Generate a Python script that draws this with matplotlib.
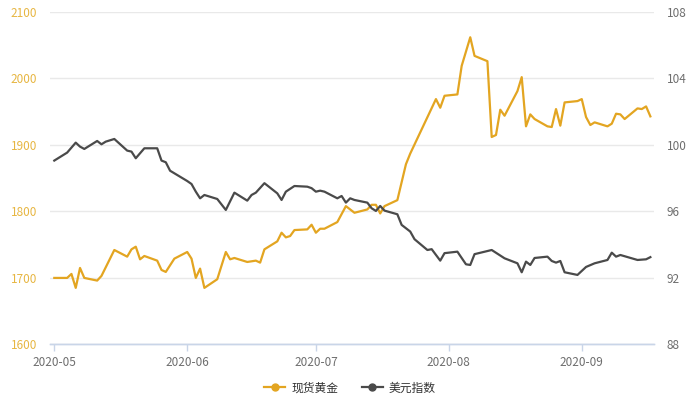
import matplotlib
matplotlib.use("Agg")
import matplotlib.pyplot as plt
import matplotlib.dates as mdates
from matplotlib.lines import Line2D
import numpy as np
import datetime as dt

plt.rcParams['font.family'] = ['Noto Sans CJK SC', 'DejaVu Sans']

gold_dates = ["2020-05-01","2020-05-04","2020-05-05","2020-05-06","2020-05-07","2020-05-08",
    "2020-05-11","2020-05-12","2020-05-15","2020-05-18","2020-05-19","2020-05-20","2020-05-21",
    "2020-05-22","2020-05-25","2020-05-26","2020-05-27","2020-05-29","2020-06-01","2020-06-02",
    "2020-06-03","2020-06-04","2020-06-05","2020-06-08","2020-06-10","2020-06-11","2020-06-12",
    "2020-06-15","2020-06-17","2020-06-18","2020-06-19","2020-06-22","2020-06-23","2020-06-24",
    "2020-06-25","2020-06-26","2020-06-29","2020-06-30","2020-07-01","2020-07-02","2020-07-03",
    "2020-07-06","2020-07-08","2020-07-10","2020-07-13","2020-07-14","2020-07-15","2020-07-16",
    "2020-07-17","2020-07-20","2020-07-22","2020-07-23","2020-07-29","2020-07-30","2020-07-31",
    "2020-08-03","2020-08-04","2020-08-06","2020-08-07","2020-08-10","2020-08-11","2020-08-12",
    "2020-08-13","2020-08-14","2020-08-17","2020-08-18","2020-08-19","2020-08-20","2020-08-21",
    "2020-08-24","2020-08-25","2020-08-26","2020-08-27","2020-08-28","2020-08-31","2020-09-01",
    "2020-09-02","2020-09-03","2020-09-04","2020-09-07","2020-09-08","2020-09-09","2020-09-10",
    "2020-09-11","2020-09-14","2020-09-15","2020-09-16","2020-09-17"]
gold_values = [1700,1700,1706,1685,1715,1700,
    1696,1703,1742,1732,1743,1747,1728,
    1733,1726,1712,1709,1729,1739,1729,
    1700,1714,1685,1698,1739,1728,1730,
    1724,1726,1723,1743,1755,1768,1761,
    1763,1772,1773,1780,1768,1774,1774,
    1784,1808,1798,1803,1810,1810,1797,
    1808,1817,1871,1887,1969,1956,1974,
    1976,2019,2062,2034,2026,1912,1915,
    1953,1944,1981,2002,1928,1946,1939,
    1928,1927,1954,1929,1964,1966,1969,
    1942,1930,1934,1928,1932,1947,1946,
    1939,1955,1954,1958,1943]

usd_dates = ["2020-05-01","2020-05-04","2020-05-06","2020-05-07","2020-05-08","2020-05-11",
    "2020-05-12","2020-05-13","2020-05-15","2020-05-18","2020-05-19","2020-05-20","2020-05-22",
    "2020-05-25","2020-05-26","2020-05-27","2020-05-28","2020-06-01","2020-06-02","2020-06-03",
    "2020-06-04","2020-06-05","2020-06-08","2020-06-10","2020-06-12","2020-06-15","2020-06-16",
    "2020-06-17","2020-06-19","2020-06-22","2020-06-23","2020-06-24","2020-06-26","2020-06-29",
    "2020-06-30","2020-07-01","2020-07-02","2020-07-03","2020-07-06","2020-07-07","2020-07-08",
    "2020-07-09","2020-07-10","2020-07-13","2020-07-14","2020-07-15","2020-07-16","2020-07-17",
    "2020-07-20","2020-07-21","2020-07-23","2020-07-24","2020-07-27","2020-07-28","2020-07-30",
    "2020-07-31","2020-08-03","2020-08-05","2020-08-06","2020-08-07","2020-08-11","2020-08-14",
    "2020-08-17","2020-08-18","2020-08-19","2020-08-20","2020-08-21","2020-08-24","2020-08-25",
    "2020-08-26","2020-08-27","2020-08-28","2020-08-31","2020-09-02","2020-09-04","2020-09-07",
    "2020-09-08","2020-09-09","2020-09-10","2020-09-14","2020-09-16","2020-09-17"]
usd_values = [99.06,99.54,100.14,99.90,99.76,100.24,
    100.04,100.20,100.36,99.66,99.60,99.20,99.80,
    99.80,99.06,98.96,98.45,97.83,97.65,97.19,
    96.79,96.99,96.75,96.09,97.13,96.65,96.99,
    97.13,97.70,97.09,96.69,97.19,97.53,97.49,
    97.40,97.19,97.25,97.19,96.79,96.93,96.53,
    96.79,96.69,96.53,96.19,96.03,96.33,96.05,
    95.83,95.19,94.79,94.33,93.68,93.73,93.04,
    93.49,93.58,92.82,92.78,93.43,93.68,93.18,
    92.88,92.34,92.98,92.78,93.20,93.28,93.02,
    92.92,93.02,92.34,92.18,92.66,92.88,93.08,
    93.52,93.28,93.38,93.08,93.12,93.25]

gold_ticks = [1600, 1700, 1800, 1900, 2000, 2100]
usd_ticks = [88, 92, 96, 100, 104, 108]
month_ticks = ["2020-05-01", "2020-06-01", "2020-07-01", "2020-08-01", "2020-09-01"]
gold_label = "现货黄金"
usd_label = "美元指数"

GOLD = '#E3A521'
GOLD_TXT = '#E7B642'
GRAY = '#4a4a4a'
TXT = '#6e6e6e'
GRID = '#e9e9e9'
AXIS = '#c9d5e8'

to_d = lambda s: dt.datetime.strptime(s, "%Y-%m-%d")
gd = [to_d(s) for s in gold_dates]
ud = [to_d(s) for s in usd_dates]

fig = plt.figure(figsize=(7, 4), dpi=100)
ax = fig.add_axes([0.071, 0.139, 0.863, 0.831])
ax2 = ax.twinx()

ax.plot(gd, gold_values, color=GOLD, lw=1.6, zorder=3)
ax2.plot(ud, usd_values, color=GRAY, lw=1.6, zorder=3)

ax.set_ylim(1600, 2100)
ax2.set_ylim(88, 108)
ax.set_yticks(gold_ticks)
ax2.set_yticks(usd_ticks)
ax.grid(axis='y', color=GRID, lw=1)
ax.set_axisbelow(True)

start = mdates.date2num(to_d("2020-05-01"))
ax.set_xlim(start - 1.07, start + 139.8)
ax.set_xticks([mdates.date2num(to_d(s)) for s in month_ticks])
ax.xaxis.set_major_formatter(mdates.DateFormatter('%Y-%m'))

for a in (ax, ax2):
    for sp in ('top', 'right', 'left'):
        a.spines[sp].set_visible(False)
    a.spines['bottom'].set_color(AXIS)
    a.spines['bottom'].set_linewidth(1)

ax.tick_params(axis='x', colors=AXIS, length=5, width=1, labelcolor=TXT, labelsize=8.5, pad=3)
ax.tick_params(axis='y', length=0, labelcolor=GOLD_TXT, labelsize=8.5)
ax2.tick_params(axis='y', length=0, labelcolor=TXT, labelsize=8.5, pad=9.5)
ax2.tick_params(axis='x', length=0)
for lab in ax.get_yticklabels():
    lab.set_horizontalalignment('left')
ax.yaxis.set_tick_params(pad=28)

handles = [Line2D([0], [0], color=GOLD, lw=1.6, marker='o', markersize=5),
           Line2D([0], [0], color=GRAY, lw=1.6, marker='o', markersize=5)]
fig.legend(handles, [gold_label, usd_label], loc='center', bbox_to_anchor=(0.5, 0.03),
           ncol=2, frameon=False, fontsize=8.5, handlelength=1.8, columnspacing=2.0,
           handletextpad=0.5, labelcolor='#333333')

fig.savefig("out.png", dpi=100)
